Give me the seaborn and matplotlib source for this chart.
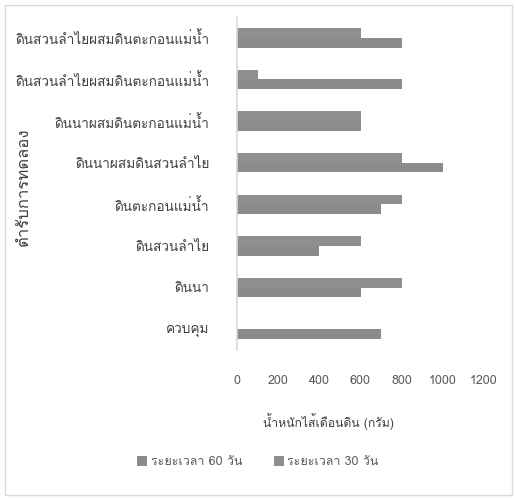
import matplotlib
matplotlib.use("Agg")
import matplotlib.pyplot as plt
from matplotlib import font_manager
from matplotlib.ft2font import FT2Font
from matplotlib.patches import Rectangle
import seaborn as sns
import pandas as pd

# Treatments, top to bottom
treatments = [
    "ดินสวนลำไยผสมดินตะกอนแม่น้ำ",
    "ดินสวนลำไยผสมดินตะกอนแม่น้ำ",
    "ดินนาผสมดินตะกอนแม่น้ำ",
    "ดินนาผสมดินสวนลำไย",
    "ดินตะกอนแม่น้ำ",
    "ดินสวนลำไย",
    "ดินนา",
    "ควบคุม",
]
weight_30_days = [600, 100, 600, 800, 800, 600, 800, 0]
weight_60_days = [800, 800, 600, 1000, 700, 400, 600, 700]
series_names = ["ระยะเวลา 60 วัน", "ระยะเวลา 30 วัน"]
x_ticks = [0, 200, 400, 600, 800, 1000, 1200]
x_title = "น้ำหนักไส้เดือนดิน (กรัม)"
y_title = "ตำรับการทดลอง"


def find_thai_family():
    found = []
    for f in font_manager.fontManager.ttflist:
        try:
            cmap = FT2Font(f.fname).get_charmap()
        except Exception:
            continue
        if 0x0E14 in cmap and 0x0E33 in cmap:
            found.append(f.name)
    return found


thai_fams = find_thai_family()
sns.set_theme(style="white")
plt.rcParams["font.family"] = (thai_fams[:1] if thai_fams else []) + ["DejaVu Sans"]

rows = []
for i, t in enumerate(treatments):
    rows.append({"idx": i, "series": series_names[1], "weight": weight_30_days[i]})
    rows.append({"idx": i, "series": series_names[0], "weight": weight_60_days[i]})
df = pd.DataFrame(rows)

fig = plt.figure(figsize=(5.16, 4.99), dpi=100)
ax = fig.add_axes([237 / 516, 1 - 350 / 499, (484 - 237) / 516, (350 - 17) / 499])

sns.barplot(
    data=df, y="idx", x="weight", hue="series", orient="h",
    hue_order=[series_names[1], series_names[0]],
    palette=["#8f8f92", "#8b8b8e"], width=0.47, ax=ax, legend=True,
    edgecolor="none", linewidth=0,
)

ax.set_xlim(0, 1200)
ax.set_xticks(x_ticks)
ax.set_xticklabels([str(v) for v in x_ticks], fontsize=9, color="#595959")
ax.set_yticks(range(len(treatments)))
ax.set_yticklabels(treatments, fontsize=9.8, color="#404040")
ax.tick_params(axis="both", length=0)
ax.tick_params(axis="y", pad=20)
ax.tick_params(axis="x", pad=18)

for side in ["top", "right", "bottom"]:
    ax.spines[side].set_visible(False)
ax.spines["left"].set_color("#d9d9d9")
ax.spines["left"].set_linewidth(1.2)

ax.set_xlabel(x_title, fontsize=8.8, color="#404040")
ax.xaxis.set_label_coords(0.37, -0.19)
ax.set_ylabel(y_title, fontsize=12, color="#404040")
ax.yaxis.set_label_coords(-0.83, 0.49)

handles, labels = ax.get_legend_handles_labels()
ax.get_legend().remove()
order = [labels.index(series_names[0]), labels.index(series_names[1])]
fig.legend(
    [handles[k] for k in order], [labels[k] for k in order],
    loc="center", bbox_to_anchor=(0.5, 1 - 462 / 499), ncol=2, frameon=False,
    fontsize=9, handlelength=0.8, handleheight=0.8, handletextpad=0.3,
    columnspacing=2.5, labelcolor="#595959",
)

fig.patches.append(Rectangle((5 / 516, 4 / 499), 507 / 516, 490 / 499,
                             transform=fig.transFigure, fill=False,
                             edgecolor="#d9d9d9", linewidth=1))

fig.savefig("out.png", dpi=100, facecolor="white")
